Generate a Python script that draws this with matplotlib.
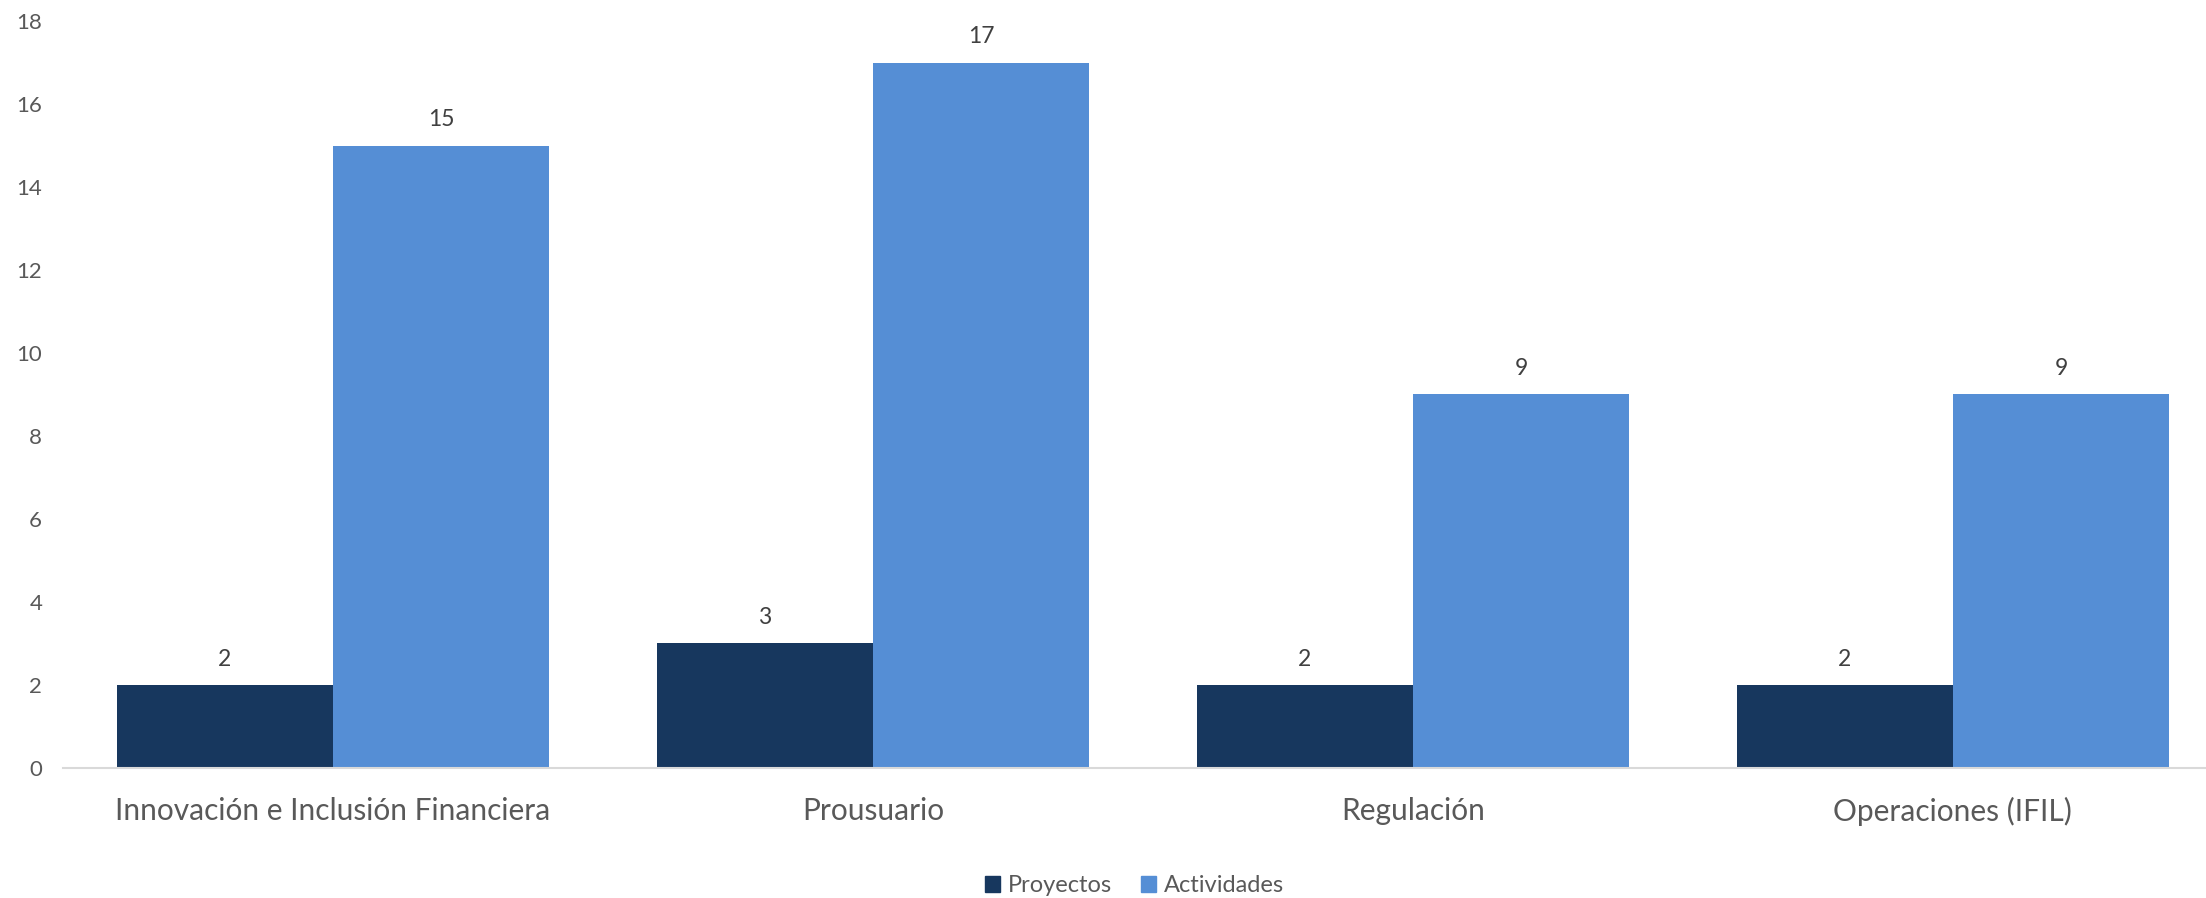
"""Proyectos y actividades por area - bar chart"""

import matplotlib
matplotlib.use("Agg")
import matplotlib.pyplot as plt
from matplotlib.patches import Patch
import numpy as np

# data
areas = ["Innovación e Inclusión Financiera", "Prousuario", "Regulación", "Operaciones (IFIL)"]
proyectos = [2, 3, 2, 2]
actividades = [15, 17, 9, 9]
y_ticks = [0, 2, 4, 6, 8, 10, 12, 14, 16, 18]

dark_blue = "#17375E"
light_blue = "#558ED5"

plt.rcParams["font.family"] = ["Lato", "DejaVu Sans"]

fig = plt.figure(figsize=(22.06, 8.98), dpi=100)
ax = fig.add_axes([0.02856, 0.1448, 0.9791, 0.8318])

x = np.arange(len(areas))
w = 0.4
b1 = ax.bar(x - w / 2, proyectos, width=w, color=dark_blue, label="Proyectos")
b2 = ax.bar(x + w / 2, actividades, width=w, color=light_blue, label="Actividades")

# value labels
for bars in (b1, b2):
    ax.bar_label(bars, padding=11, fontsize=16.5, color="#404040")

ax.set_xlim(-0.5, len(areas) - 0.5)
ax.set_ylim(0, 18)
ax.set_yticks(y_ticks)
ax.set_xticks(x)
ax.set_xticklabels(areas)
ax.tick_params(axis="y", length=0, pad=15, labelsize=16, labelcolor="#595959")
ax.tick_params(axis="x", length=0, pad=21, labelsize=21.5, labelcolor="#595959")

for side in ["left", "right", "top"]:
    ax.spines[side].set_visible(False)
ax.spines["bottom"].set_color("#D9D9D9")
ax.spines["bottom"].set_linewidth(1.5)

# legend
handles = [Patch(color=dark_blue), Patch(color=light_blue)]
fig.legend(handles, ["Proyectos", "Actividades"], loc="center",
           bbox_to_anchor=(0.5143, 0.0134), ncol=2, frameon=False,
           fontsize=17, labelcolor="#595959", handlelength=0.65, handleheight=0.65,
           handletextpad=0.35, columnspacing=1.2)

plt.savefig("out.png", dpi=100)
